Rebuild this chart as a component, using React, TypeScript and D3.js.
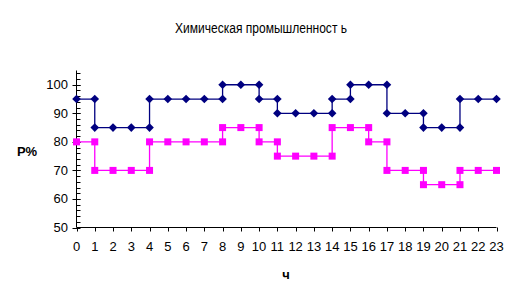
import React from "react";
import * as d3 from "d3";

const title = "Химическая промышленност ь";
const yLabel = "P%";
const xLabel = "ч";

// Step points (hour, value) — duplicate hours mark vertical jumps
const navyX = [0, 1, 1, 2, 3, 4, 4, 5, 6, 7, 8, 8, 9, 10, 10, 11, 11, 12, 13, 14, 14, 15, 15, 16, 17, 17, 18, 19, 19, 20, 21, 21, 22, 23];
const navyY = [95, 95, 85, 85, 85, 85, 95, 95, 95, 95, 95, 100, 100, 100, 95, 95, 90, 90, 90, 90, 95, 95, 100, 100, 100, 90, 90, 90, 85, 85, 85, 95, 95, 95];
const pinkX = [0, 1, 1, 2, 3, 4, 4, 5, 6, 7, 8, 8, 9, 10, 10, 11, 11, 12, 13, 14, 14, 15, 16, 16, 17, 17, 18, 19, 19, 20, 21, 21, 22, 23];
const pinkY = [80, 80, 70, 70, 70, 70, 80, 80, 80, 80, 80, 85, 85, 85, 80, 80, 75, 75, 75, 75, 85, 85, 85, 80, 80, 70, 70, 70, 65, 65, 65, 70, 70, 70];

const xTicks = d3.range(0, 24);
const yTicks = [50, 60, 70, 80, 90, 100];
const yMinorTicks = d3.range(52, 105, 2);

export default function App() {
  const W = 522, H = 302;
  const x = d3.scaleLinear().domain([0, 23]).range([76.5, 496.5]);
  const y = d3.scaleLinear().domain([50, 105]).range([227.5, 70.5]);
  const navy = navyX.map((v, i) => [v, navyY[i]] as [number, number]);
  const pink = pinkX.map((v, i) => [v, pinkY[i]] as [number, number]);
  const line = d3.line<[number, number]>().x(d => x(d[0])).y(d => y(d[1]));
  const font = "'Liberation Sans', Arial, sans-serif";
  const diamond = "M0,-4.3L4.3,0L0,4.3L-4.3,0Z";
  return (
    <svg width={W} height={H} style={{ position: "absolute", left: 0, top: 0, background: "#fff" }} fontFamily={font}>
      <text x={261} y={33} textAnchor="middle" fontSize={14} textLength={172} lengthAdjust="spacingAndGlyphs" fill="#000">{title}</text>
      {/* Y axis */}
      <line x1={x(0)} x2={x(0)} y1={y(105)} y2={y(50)} stroke="#000" strokeWidth={1} />
      {yMinorTicks.map(t => (
        <line key={"m" + t} x1={x(0)} x2={x(0) + 4} y1={Math.round(y(t)) + 0.5} y2={Math.round(y(t)) + 0.5} stroke="#000" />
      ))}
      {yTicks.map(t => (
        <g key={t}>
          <line x1={x(0) - 4} x2={x(0) + 4} y1={Math.round(y(t)) + 0.5} y2={Math.round(y(t)) + 0.5} stroke="#000" />
          <text x={68} y={y(t) + 4.5} textAnchor="end" fontSize={13} fill="#000">{t}</text>
        </g>
      ))}
      {/* X axis */}
      <line x1={x(0)} x2={x(23)} y1={y(50)} y2={y(50)} stroke="#000" />
      {xTicks.map(t => (
        <g key={t}>
          <line x1={Math.round(x(t)) + 0.5} x2={Math.round(x(t)) + 0.5} y1={y(50)} y2={y(50) + 4} stroke="#000" />
          <text x={x(t)} y={251} textAnchor="middle" fontSize={13} fill="#000">{t}</text>
        </g>
      ))}
      <text x={27} y={156} textAnchor="middle" fontSize={13} fontWeight="bold" fill="#000">{yLabel}</text>
      <text x={286} y={279} textAnchor="middle" fontSize={13} fontWeight="bold" fill="#000">{xLabel}</text>
      {/* Series */}
      <path d={line(navy) || ""} fill="none" stroke="#000080" strokeWidth={1.3} />
      <path d={line(pink) || ""} fill="none" stroke="#FF00FF" strokeWidth={1.3} />
      {navy.map((d, i) => (
        <path key={"n" + i} d={diamond} transform={`translate(${x(d[0])},${y(d[1])})`} fill="#000080" />
      ))}
      {pink.map((d, i) => (
        <rect key={"p" + i} x={x(d[0]) - 3.5} y={y(d[1]) - 3.5} width={7} height={7} fill="#FF00FF" />
      ))}
    </svg>
  );
}
